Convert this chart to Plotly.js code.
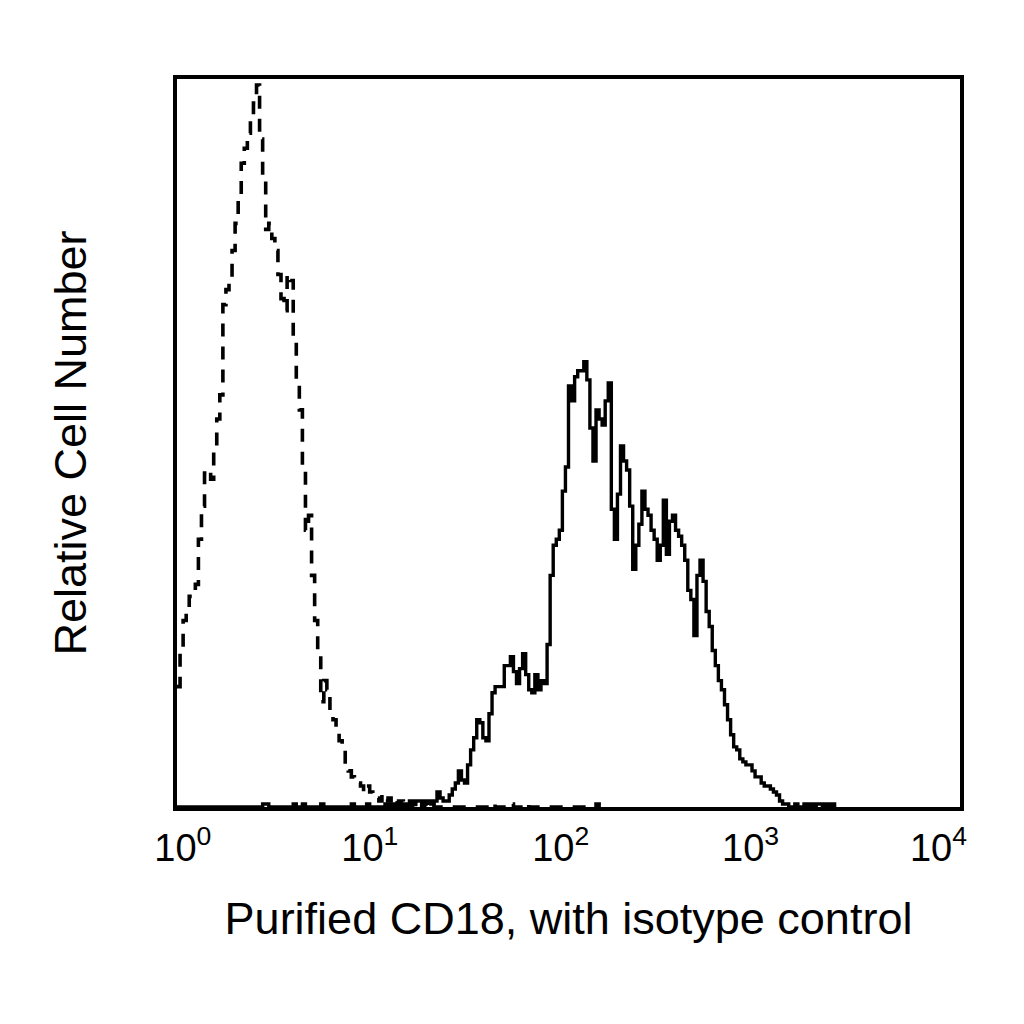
<!DOCTYPE html>
<html>
<head>
<meta charset="utf-8">
<script src="https://cdn.plot.ly/plotly-3.0.1.min.js"></script>
<style>
  html, body { margin: 0; padding: 0; background: #fff; }
  #chart { width: 1024px; height: 1024px; }
</style>
</head>
<body>
<div id="chart"></div>
<script>
// 256 log channels over 4 decades, counts per channel
const isotypeCounts = [
  40, 52, 62, 65, 70, 72, 74, 89, 100, 111, 112, 109, 120, 129, 137, 167,
  172, 175, 185, 194, 202, 214, 219, 224, 230, 234, 240, 222, 210, 192, 194, 189,
  185, 177, 169, 165, 177, 175, 155, 142, 132, 112, 92, 97, 77, 62, 52, 35,
  42, 39, 30, 29, 26, 22, 19, 15, 12, 10, 9, 8, 7, 5, 7, 5,
  4, 3, 2, 4, 2, 3, 1, 2, 1, 2, 1, 1, 0, 1, 0, 1,
  0, 1, 0, 1, 0, 0, 0, 0, 0, 0, 0, 0, 0, 0, 0, 0,
  0, 0, 0, 0, 0, 0, 0, 1, 0, 0, 0, 0, 0, 1, 0, 0,
  0, 0, 1, 0, 0, 0, 0, 0, 0, 0, 0, 0, 0, 0, 0, 0,
  0, 0, 0, 0, 0, 0, 0, 0, 0, 1, 0,
]

const cd18Counts = [
  0, 0, 0, 0, 0, 0, 0, 0, 0, 0, 0, 0, 0, 0, 0, 0,
  0, 0, 0, 0, 0, 0, 0, 0, 0, 0, 0, 0, 1, 1, 0, 0,
  0, 0, 0, 0, 0, 0, 1, 0, 0, 1, 0, 0, 0, 0, 0, 1,
  0, 0, 0, 0, 0, 0, 0, 0, 0, 1, 0, 0, 0, 0, 1, 0,
  0, 0, 0, 0, 1, 0, 1, 0, 1, 0, 1, 0, 2, 1, 2, 2,
  1, 2, 2, 1, 2, 5, 3, 2, 2, 4, 6, 8, 12, 9, 8, 14,
  19, 23, 29, 28, 23, 22, 31, 38, 40, 40, 40, 47, 47, 50, 45, 41,
  46, 51, 44, 39, 38, 44, 39, 42, 41, 54, 77, 87, 89, 92, 105, 113,
  140, 135, 143, 145, 145, 148, 142, 126, 115, 132, 129, 127, 135, 141, 99, 89,
  104, 120, 115, 112, 100, 79, 87, 94, 105, 99, 97, 92, 89, 82, 87, 102,
  84, 95, 97, 92, 90, 87, 82, 72, 69, 57, 77, 82, 75, 65, 60, 52,
  47, 42, 39, 34, 29, 24, 20, 19, 16, 15, 14, 14, 12, 10, 10, 8,
  7, 7, 6, 5, 4, 2, 1, 1, 0, 0, 1, 0, 0, 1, 0, 1,
  0, 1, 1, 0, 1, 0, 1, 0,
]

const channelsPerDecade = 64
const tickText = ['10<sup>0</sup>', '10<sup>1</sup>', '10<sup>2</sup>', '10<sup>3</sup>', '10<sup>4</sup>']
// where the labels sit under the frame, in decades
const tickDecades = [0.03, 0.985, 1.96, 2.93, 3.89]

const FONT = '"Liberation Sans", Arial, Helvetica, sans-serif'

const stepTrace = (counts, dash, width) => {
  const x = counts.map((_, i) => Math.pow(10, i / channelsPerDecade))
  return {
    x,
    y: counts,
    type: 'scatter',
    mode: 'lines',
    line: { shape: 'hv', color: '#000', width, dash },
    hoverinfo: 'skip',
  }
}

const axisBase = {
  showline: true,
  mirror: true,
  linecolor: '#000',
  linewidth: 4,
  ticks: '',
  showgrid: false,
  zeroline: false,
  fixedrange: true,
}

Plotly.newPlot(
  'chart',
  [stepTrace(isotypeCounts, '13px,10px', 3.6), stepTrace(cd18Counts, 'solid', 3.4)],
  {
    width: 1024,
    height: 1024,
    paper_bgcolor: '#fff',
    plot_bgcolor: '#fff',
    showlegend: false,
    margin: { l: 177, r: 64, t: 79, b: 217 },
    font: { family: FONT, color: '#000' },
    xaxis: {
      ...axisBase,
      type: 'log',
      range: [0, 4],
      tickvals: tickDecades.map(d => Math.pow(10, d)),
      ticktext: tickText,
      tickfont: { size: 38, family: FONT, color: '#000' },
      ticklabelstandoff: 4,
      title: { text: 'Purified CD18, with isotype control', font: { size: 45, family: FONT, color: '#000' }, standoff: 36 },
      automargin: false,
    },
    yaxis: {
      ...axisBase,
      range: [0, 242],
      showticklabels: false,
      title: { text: 'Relative Cell Number', font: { size: 45, family: FONT, color: '#000' }, standoff: 73 },
      automargin: false,
    },
  },
  { staticPlot: true },
)
</script>
</body>
</html>
